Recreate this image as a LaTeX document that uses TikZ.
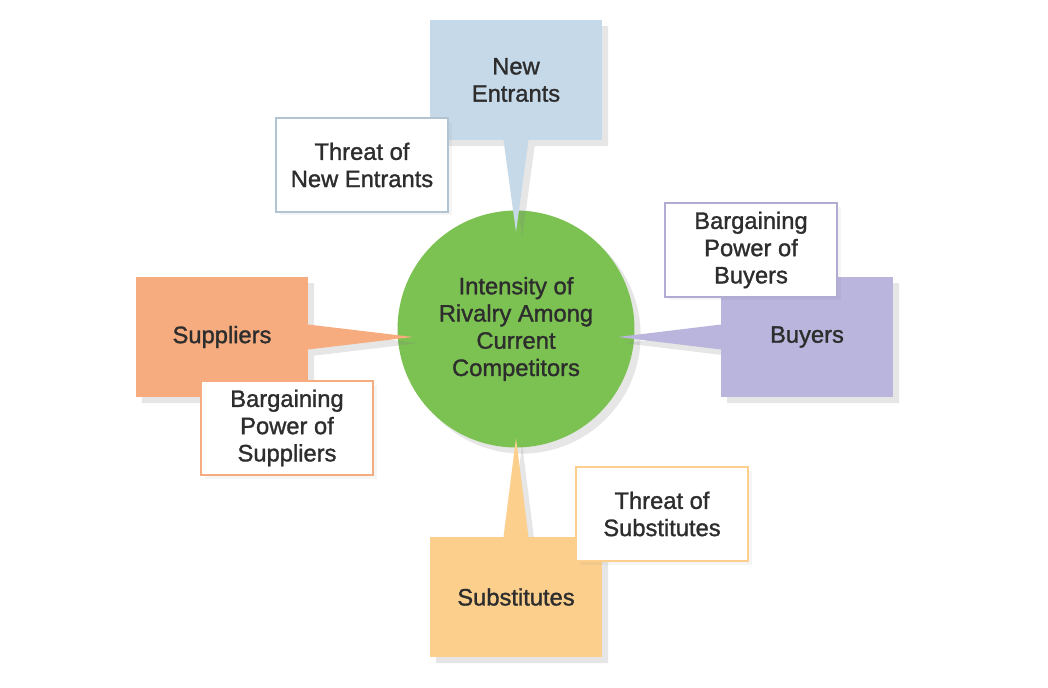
\documentclass[tikz,border=0pt]{standalone}
\usepackage{fontspec}
\setmainfont{Liberation Sans}[BoldFont={Liberation Sans},BoldFeatures={FakeBold=1.3}]
\usepackage{xcolor}
\usetikzlibrary{calc,shapes.callouts,shadows,positioning}

\definecolor{rivalgreen}{RGB}{124,194,82}
\definecolor{entblue}{RGB}{198,217,233}
\definecolor{supporange}{RGB}{246,172,126}
\definecolor{buypurple}{RGB}{185,181,221}
\definecolor{subyellow}{RGB}{252,207,140}
\definecolor{txtgray}{RGB}{45,45,45}

\begin{document}
\begin{tikzpicture}[x=0.02cm,y=-0.02cm,
        every node/.style={font=\fontsize{13.5}{15.5}\selectfont\bfseries,text=txtgray,align=center},
        force/.style={rectangle callout,minimum width=3.44cm,minimum height=2.4cm,
            callout pointer width=0.5cm,
            drop shadow={shadow xshift=3.5pt,shadow yshift=-3.5pt,opacity=0.2}},
        threatbox/.style={draw,line width=1pt,fill=white,minimum width=3.44cm,minimum height=1.88cm,
            drop shadow={shadow xshift=2pt,shadow yshift=-2pt,opacity=0.08}}]
                \useasboundingbox (0,0) rectangle (1048,688);
                \node[circle,fill=rivalgreen,minimum size=4.74cm,
                    drop shadow={shadow xshift=3.5pt,shadow yshift=-3.5pt,opacity=0.2}] at (516,329)(rival){Intensity of\\Rivalry Among\\Current\\Competitors};
                \coordinate (tipN) at ($(rival.center)+(0,-97)$);
                \coordinate (tipW) at ($(rival.center)+(-103,8)$);
                \coordinate (tipE) at ($(rival.center)+(102,8)$);
                \coordinate (tipS) at ($(rival.center)+(0,109)$);
                % the four forces
                \node[force,fill=entblue,callout absolute pointer={(tipN)}] at (516,80)(entrants){New\\Entrants};
                \node[force,fill=supporange,callout absolute pointer={(tipW)}] at (222,337)(suppliers){Suppliers};
                \node[force,fill=buypurple,callout absolute pointer={(tipE)}] at (807,337)(buyers){Buyers};
                \node[force,fill=subyellow,callout absolute pointer={(tipS)}] at (516,597)(substitutes){Substitutes};
                % what each force brings
                \node[threatbox,draw=entblue!90!black] at (362,165)(threatN){Threat of\\New Entrants};
                \node[threatbox,draw=supporange] at (287,428)(powerS){Bargaining\\Power of\\Suppliers};
                \node[threatbox,draw=buypurple!95!black] at (751,250)(powerB){Bargaining\\Power of\\Buyers};
                \node[threatbox,draw=subyellow] at (662,514)(threatS){Threat of\\Substitutes};
            \end{tikzpicture}
\end{document}
